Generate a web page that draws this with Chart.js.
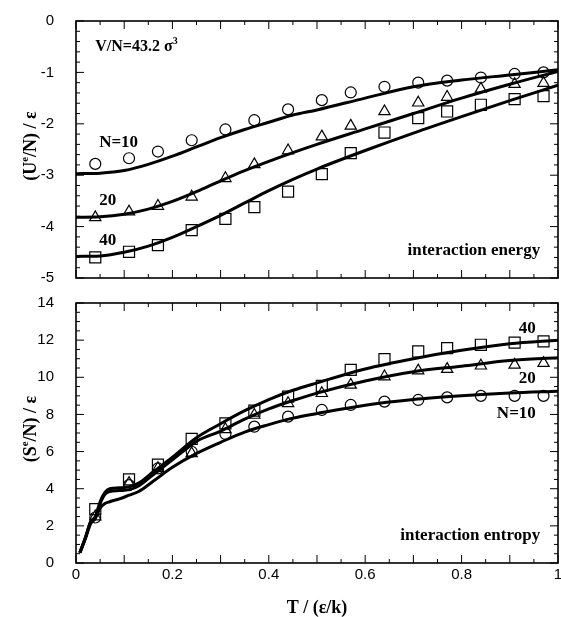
<!DOCTYPE html>
<html><head><meta charset="utf-8">
<script src="https://cdn.jsdelivr.net/npm/chart.js@4.4.0/dist/chart.umd.min.js"></script>
<style>
html,body{margin:0;padding:0;background:#fff;}
#wrap{position:relative;width:561px;height:617px;}
</style></head><body>
<div id="wrap">
<canvas id="c1" width="561" height="290" style="position:absolute;left:0;top:0"></canvas>
<canvas id="c2" width="561" height="327" style="position:absolute;left:0;top:290px"></canvas>
</div>
<script>
// ---- simulation points (markers) ----
const T_sim = [0.04, 0.11, 0.17, 0.24, 0.31, 0.37, 0.44, 0.51, 0.57, 0.64, 0.71, 0.77, 0.84, 0.91, 0.97];
const U_sim_N10 = [-2.78, -2.67, -2.54, -2.32, -2.11, -1.93, -1.72, -1.54, -1.39, -1.28, -1.20, -1.16, -1.10, -1.03, -1.00];
const U_sim_N20 = [-3.82, -3.71, -3.60, -3.42, -3.06, -2.79, -2.52, -2.25, -2.04, -1.76, -1.59, -1.48, -1.32, -1.23, -1.21];
const U_sim_N40 = [-4.60, -4.49, -4.36, -4.07, -3.85, -3.62, -3.32, -2.98, -2.57, -2.17, -1.89, -1.76, -1.63, -1.52, -1.46];
const S_sim_N10 = [2.45, 4.19, 5.09, 5.99, 6.95, 7.34, 7.88, 8.24, 8.51, 8.69, 8.78, 8.92, 9.00, 9.00, 9.00];
const S_sim_N20 = [2.50, 4.30, 5.10, 5.90, 7.20, 7.97, 8.60, 9.14, 9.59, 10.04, 10.36, 10.44, 10.62, 10.67, 10.76];
const S_sim_N40 = [2.90, 4.50, 5.30, 6.68, 7.52, 8.20, 8.96, 9.54, 10.40, 10.98, 11.39, 11.57, 11.75, 11.87, 11.93];

// ---- theory curves ----
const T_curveU = [0, 0.05, 0.1, 0.15, 0.2, 0.25, 0.3, 0.35, 0.4, 0.45, 0.5, 0.6, 0.7, 0.8, 0.9, 1.0];
const U_curve_N10 = [-2.97, -2.96, -2.91, -2.79, -2.63, -2.45, -2.27, -2.11, -1.97, -1.83, -1.73, -1.50, -1.28, -1.15, -1.05, -0.95];
const U_curve_N20 = [-3.82, -3.81, -3.76, -3.66, -3.51, -3.32, -3.11, -2.91, -2.73, -2.56, -2.40, -2.10, -1.80, -1.50, -1.23, -0.98];
const U_curve_N40 = [-4.58, -4.57, -4.50, -4.38, -4.21, -4.00, -3.78, -3.54, -3.30, -3.08, -2.88, -2.52, -2.18, -1.86, -1.55, -1.25];

const T_curveS = [0.008, 0.02, 0.03, 0.04, 0.05, 0.06, 0.07, 0.09, 0.11, 0.13, 0.16, 0.2, 0.25, 0.3, 0.35, 0.4, 0.45, 0.5, 0.6, 0.7, 0.8, 0.9, 1.0];
const S_curve_N40 = [0.55, 1.4, 2.2, 2.5, 3.3, 3.8, 4.0, 4.05, 4.1, 4.3, 4.9, 5.7, 6.75, 7.5, 8.2, 8.8, 9.3, 9.7, 10.45, 11.0, 11.45, 11.8, 12.0];
const S_curve_N20 = [0.55, 1.4, 2.2, 2.45, 3.2, 3.7, 3.85, 3.9, 3.95, 4.15, 4.75, 5.55, 6.55, 7.1, 7.75, 8.3, 8.75, 9.15, 9.8, 10.3, 10.6, 10.9, 11.05];
const S_curve_N10 = [0.55, 1.35, 2.1, 2.4, 2.95, 3.2, 3.3, 3.45, 3.65, 3.85, 4.4, 5.15, 5.9, 6.5, 7.05, 7.45, 7.8, 8.05, 8.5, 8.8, 9.0, 9.15, 9.25];

// ---- axis ticks ----
const xTickLabels = ['0', '0.2', '0.4', '0.6', '0.8', '1'];
const yTickLabelsU = ['-5', '-4', '-3', '-2', '-1', '0'];
const yTickLabelsS = ['0', '2', '4', '6', '8', '10', '12', '14'];

const pts = (xs, ys) => xs.map((x, i) => ({x, y: ys[i]}));
const SERIF = '"Liberation Serif", "Times New Roman", serif';
const SANS = '"Liberation Sans", Arial, sans-serif';

function curve(xs, ys) {
  return {type: 'line', data: pts(xs, ys), borderColor: '#000', borderWidth: 3,
    pointRadius: 0, fill: false, cubicInterpolationMode: 'monotone', order: 2};
}
function markers(xs, ys, style, r) {
  return {type: 'scatter', data: pts(xs, ys), showLine: false, pointStyle: style,
    pointRadius: r, pointHoverRadius: r, pointBorderColor: '#000', pointBorderWidth: 1.2,
    pointBackgroundColor: 'rgba(0,0,0,0)', order: 1};
}

function drawRich(ctx, parts, x, y, align, size, rot) {
  ctx.save();
  ctx.translate(x, y);
  if (rot) ctx.rotate(rot);
  const fMain = 'bold ' + size + 'px ' + SERIF;
  const fSup = 'bold ' + Math.round(size * 0.62) + 'px ' + SERIF;
  let w = 0;
  const ws = parts.map(p => { ctx.font = p.sup ? fSup : fMain; const m = ctx.measureText(p.t).width; w += m; return m; });
  let cx = align === 'right' ? -w : (align === 'center' ? -w / 2 : 0);
  ctx.fillStyle = '#000'; ctx.textAlign = 'left'; ctx.textBaseline = 'alphabetic';
  parts.forEach((p, i) => { ctx.font = p.sup ? fSup : fMain; ctx.fillText(p.t, cx, p.sup ? -size * 0.42 : 0); cx += ws[i]; });
  ctx.restore();
}

const frame = {
  id: 'frame',
  afterDatasetsDraw(chart, args, opts) {
    const {ctx, chartArea: a, scales: {x, y}} = chart;
    ctx.save();
    ctx.strokeStyle = '#000';
    ctx.lineWidth = 1;
    ctx.beginPath();
    x.ticks.forEach(t => {
      const p = x.getPixelForValue(t.value);
      const major = Math.abs(t.value * 10 - Math.round(t.value * 10)) < 1e-6;
      const len = major ? 8 : 4;
      ctx.moveTo(p, a.bottom); ctx.lineTo(p, a.bottom - len);
      ctx.moveTo(p, a.top); ctx.lineTo(p, a.top + len);
    });
    y.ticks.forEach(t => {
      const p = y.getPixelForValue(t.value);
      const major = opts.yMajor(t.value);
      const len = major ? 8 : 4;
      ctx.moveTo(a.left, p); ctx.lineTo(a.left + len, p);
      ctx.moveTo(a.right, p); ctx.lineTo(a.right - len, p);
    });
    ctx.stroke();
    ctx.lineWidth = 1.6;
    ctx.strokeRect(a.left, a.top, a.right - a.left, a.bottom - a.top);
    ctx.restore();
  }
};
const annot = {
  id: 'annot',
  afterDraw(chart, args, opts) {
    const {ctx, scales: {x, y}} = chart;
    (opts.items || []).forEach(it => {
      const px = it.dx !== undefined ? x.getPixelForValue(it.dx) : it.px;
      const py = it.dy !== undefined ? y.getPixelForValue(it.dy) : it.py;
      drawRich(ctx, it.parts, px, py, it.align || 'left', it.size || 17, it.rot || 0);
    });
  }
};

function xScale(showLabels, height) {
  return {
    type: 'linear', min: 0, max: 1,
    grid: {display: false, drawTicks: false}, border: {display: false},
    ticks: {display: showLabels, stepSize: 0.05, autoSkip: false, maxTicksLimit: 100, maxRotation: 0,
      padding: 3, color: '#000', font: {family: SANS, size: 15},
      callback: v => { const r = Math.round(v * 100); return r % 20 === 0 ? xTickLabels[r / 20] : ''; }},
    afterFit: s => { s.height = height; s.paddingLeft = 0; s.paddingRight = 0; }
  };
}
function yScale(min, max, step, labelFn) {
  return {
    type: 'linear', min, max,
    grid: {display: false, drawTicks: false}, border: {display: false},
    ticks: {stepSize: step, autoSkip: false, maxTicksLimit: 100, padding: 22, color: '#000',
      font: {family: SANS, size: 15}, callback: labelFn},
    afterFit: s => { s.width = 76; s.paddingTop = 0; s.paddingBottom = 0; }
  };
}
const common = {
  responsive: false, animation: false, events: [],
  plugins: {legend: {display: false}, tooltip: {enabled: false}},
};

// ---- top panel ----
new Chart(document.getElementById('c1'), {
  data: {datasets: [
    curve(T_curveU, U_curve_N10), curve(T_curveU, U_curve_N20), curve(T_curveU, U_curve_N40),
    markers(T_sim, U_sim_N10, 'circle', 5.5),
    markers(T_sim, U_sim_N20, 'triangle', 6.5),
    markers(T_sim, U_sim_N40, 'rect', 7.8)
  ]},
  options: Object.assign({}, common, {
    layout: {autoPadding: false, padding: {left: 0, right: 3, top: 21, bottom: 0}},
    scales: {
      x: xScale(false, 12),
      y: yScale(-5, 0, 0.2, v => { const r = Math.round(v * 5); return r % 5 === 0 ? yTickLabelsU[r / 5 + 5] : ''; })
    },
    plugins: Object.assign({}, common.plugins, {
      frame: {yMajor: v => Math.abs(v - Math.round(v)) < 1e-6},
      annot: {items: [
        {parts: [{t: 'V/N=43.2 σ'}, {t: '3', sup: true}], dx: 0.04, dy: -0.58, size: 16},
        {parts: [{t: 'N=10'}], dx: 0.048, dy: -2.45},
        {parts: [{t: '20'}], dx: 0.048, dy: -3.58},
        {parts: [{t: '40'}], dx: 0.048, dy: -4.36},
        {parts: [{t: 'interaction energy'}], dx: 0.963, dy: -4.55, align: 'right'},
        {parts: [{t: '(U'}, {t: 'e', sup: true}, {t: '/N) / ε'}], px: 36, py: 146, align: 'center', size: 18, rot: -Math.PI / 2}
      ]}
    })
  }),
  plugins: [frame, annot]
});

// ---- bottom panel ----
new Chart(document.getElementById('c2'), {
  data: {datasets: [
    curve(T_curveS, S_curve_N10), curve(T_curveS, S_curve_N20), curve(T_curveS, S_curve_N40),
    markers(T_sim, S_sim_N10, 'circle', 5.5),
    markers(T_sim, S_sim_N20, 'triangle', 6.5),
    markers(T_sim, S_sim_N40, 'rect', 7.8)
  ]},
  options: Object.assign({}, common, {
    layout: {autoPadding: false, padding: {left: 0, right: 3, top: 13, bottom: 0}},
    scales: {
      x: xScale(true, 54),
      y: yScale(0, 14, 0.5, v => { const r = Math.round(v * 2); return r % 4 === 0 ? yTickLabelsS[r / 4] : ''; })
    },
    plugins: Object.assign({}, common.plugins, {
      frame: {yMajor: v => Math.abs(v / 2 - Math.round(v / 2)) < 1e-6},
      annot: {items: [
        {parts: [{t: '40'}], dx: 0.954, dy: 12.41, align: 'right'},
        {parts: [{t: '20'}], dx: 0.954, dy: 9.71, align: 'right'},
        {parts: [{t: 'N=10'}], dx: 0.954, dy: 7.82, align: 'right'},
        {parts: [{t: 'interaction entropy'}], dx: 0.963, dy: 1.24, align: 'right'},
        {parts: [{t: '(S'}, {t: 'e', sup: true}, {t: '/N) / ε'}], px: 36, py: 139, align: 'center', size: 18, rot: -Math.PI / 2},
        {parts: [{t: 'T / (ε/k)'}], px: 317, py: 323, align: 'center', size: 18}
      ]}
    })
  }),
  plugins: [frame, annot]
});
</script>
</body></html>
